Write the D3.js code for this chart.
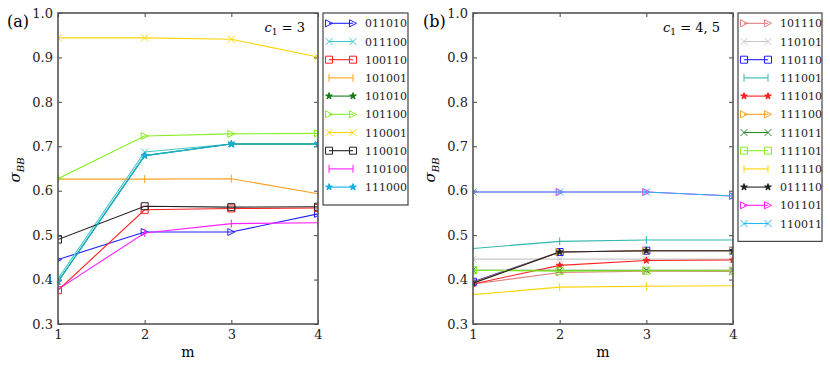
<!DOCTYPE html>
<meta charset="utf-8">
<style>
  body { margin: 0; background: white; }
  svg text { font-family: "DejaVu Serif", serif; }
  .tick text { font-size: 13px; fill: #222; }
  .tick line { stroke: #444; }
  .frame { fill: none; stroke: #555; stroke-width: 1.6; }
  .legend-box { fill: white; stroke: #444; stroke-width: 1.2; }
  .legend-text { font-size: 11px; fill: #222; }
</style>
<body></body>
<script src="https://d3js.org/d3.v7.min.js"></script>
<script>
// data
var mValues = [1, 2, 3, 4];
var yTicks = [0.3, 0.4, 0.5, 0.6, 0.7, 0.8, 0.9, 1.0];

var namesA = ["011010","011100","100110","101001","101010","101100","110001","110010","110100","111000"];
var valuesA = [
  [0.445, 0.507, 0.507, 0.548],
  [0.402, 0.687, 0.705, 0.705],
  [0.376, 0.557, 0.560, 0.561],
  [0.626, 0.626, 0.627, 0.593],
  [0.395, 0.679, 0.705, 0.705],
  [0.627, 0.723, 0.728, 0.729],
  [0.944, 0.944, 0.941, 0.901],
  [0.490, 0.565, 0.563, 0.564],
  [0.378, 0.505, 0.526, 0.528],
  [0.395, 0.679, 0.705, 0.705]
];

var namesB = ["101110","110101","110110","111001","111010","111100","111011","111101","111110","011110","101101","110011"];
var valuesB = [
  [0.390, 0.416, 0.419, 0.418],
  [0.446, 0.446, 0.446, 0.446],
  [0.395, 0.462, 0.465, 0.465],
  [0.470, 0.486, 0.489, 0.489],
  [0.390, 0.432, 0.443, 0.444],
  [0.393, 0.462, 0.465, 0.465],
  [0.421, 0.421, 0.421, 0.421],
  [0.421, 0.419, 0.420, 0.420],
  [0.366, 0.383, 0.385, 0.386],
  [0.392, 0.462, 0.465, 0.465],
  [0.597, 0.597, 0.597, 0.588],
  [0.597, 0.597, 0.597, 0.588]
];

// styles (colour, marker)
var styleA = [
  ["#2020ff", "tri"], ["#40c8c8", "x"], ["#ff2020", "sq"], ["#ffa020", "bar"], ["#1a7a1a", "star"],
  ["#88ee22", "tri"], ["#ffd500", "x"], ["#222222", "sq"], ["#ff20ff", "bar"], ["#10b0e0", "star"]
];
var styleB = [
  ["#e08080", "tri"], ["#c8c8c8", "x"], ["#2020ff", "sq"], ["#30b8b0", "bar"], ["#ff2020", "star"], ["#ffa020", "tri"],
  ["#2a8a2a", "x"], ["#88ee22", "sq"], ["#ffd500", "bar"], ["#222222", "star"], ["#ff20ff", "tri"], ["#20b8f0", "x"]
];

var svg = d3.select("body").append("svg")
  .attr("width", 830)
  .attr("height", 368);

function markerPath(kind) {
  var r = 3.5;
  if (kind == "tri") return "M" + r + ",0L" + (-r) + "," + (-r) + "L" + (-r) + "," + r + "Z";
  if (kind == "x") return "M-3.5,-3.5L3.5,3.5M-3.5,3.5L3.5,-3.5";
  if (kind == "sq") return "M-3.5,-3.5H3.5V3.5H-3.5Z";
  if (kind == "bar") return "M0,-4V4";
  return d3.symbol().type(d3.symbolStar).size(14)();
}

function drawMarker(g, kind, color, x, y) {
  g.append("path")
    .attr("d", markerPath(kind))
    .attr("transform", "translate(" + x + "," + y + ")")
    .attr("fill", kind == "star" ? color : "none")
    .attr("stroke", color)
    .attr("stroke-width", 1);
}

function drawPanel(p) {
  var x = d3.scaleLinear().domain([1, 4]).range([p.left, p.right]);
  var y = d3.scaleLinear().domain([0.3, 1.0]).range([324, 13]);
  var clipId = "clip" + p.tag.replace(/\W/g, "");

  svg.append("clipPath").attr("id", clipId)
    .append("rect")
    .attr("x", p.left).attr("y", 13)
    .attr("width", p.right - p.left).attr("height", 311);

  // axes, ticks inward on all four sides
  svg.append("g").attr("transform", "translate(0,324)")
    .call(d3.axisBottom(x).tickValues(mValues).tickFormat(d3.format("d")).tickSize(-4).tickPadding(6))
    .call(function(g) { g.select(".domain").remove(); });
  svg.append("g").attr("transform", "translate(0,13)")
    .call(d3.axisTop(x).tickValues(mValues).tickFormat("").tickSize(-4))
    .call(function(g) { g.select(".domain").remove(); });
  svg.append("g").attr("transform", "translate(" + p.left + ",0)")
    .call(d3.axisLeft(y).tickValues(yTicks).tickFormat(d3.format(".1f")).tickSize(-4).tickPadding(5))
    .call(function(g) { g.select(".domain").remove(); });
  svg.append("g").attr("transform", "translate(" + p.right + ",0)")
    .call(d3.axisRight(y).tickValues(yTicks).tickFormat("").tickSize(-4))
    .call(function(g) { g.select(".domain").remove(); });

  var plot = svg.append("g").attr("clip-path", "url(#" + clipId + ")");
  var line = d3.line()
    .x(function(d, i) { return x(mValues[i]); })
    .y(function(d) { return y(d); });

  p.values.forEach(function(vals, k) {
    var c = p.styles[k][0], mk = p.styles[k][1];
    plot.append("path")
      .attr("d", line(vals))
      .attr("fill", "none")
      .attr("stroke", c)
      .attr("stroke-width", 1.1);
    vals.forEach(function(v, i) {
      drawMarker(plot, mk, c, x(mValues[i]), y(v));
    });
  });

  svg.append("rect").attr("class", "frame")
    .attr("x", p.left).attr("y", 13)
    .attr("width", p.right - p.left).attr("height", 311);

  // labels
  svg.append("text").attr("x", p.labelX).attr("y", 27)
    .style("font-size", "16px").text(p.tag);
  var c1 = svg.append("text").attr("x", p.right - 13).attr("y", 32)
    .attr("text-anchor", "end").style("font-size", "13px");
  c1.append("tspan").style("font-style", "italic").text("c");
  c1.append("tspan").attr("dy", 3).style("font-size", "9px").text("1");
  c1.append("tspan").attr("dy", -3).text(" = " + p.c1);

  var yl = svg.append("text")
    .attr("transform", "translate(" + (p.left - 38) + ",170) rotate(-90)")
    .attr("text-anchor", "middle").style("font-size", "15px");
  yl.append("tspan").style("font-style", "italic").text("σ");
  yl.append("tspan").attr("dy", 4).style("font-style", "italic").style("font-size", "10px").text("BB");

  svg.append("text").attr("x", (p.left + p.right) / 2).attr("y", 357)
    .attr("text-anchor", "middle").style("font-size", "14px").text("m");

  // legend
  var lg = svg.append("g");
  lg.append("rect").attr("class", "legend-box")
    .attr("x", p.legX).attr("y", 13)
    .attr("width", p.legW).attr("height", 10 + p.names.length * 18.2);
  p.names.forEach(function(n, k) {
    var c = p.styles[k][0], mk = p.styles[k][1];
    var ly = 23.3 + k * 18.2;
    var x0 = p.legX + 6, x1 = p.legX + 30;
    lg.append("line").attr("x1", x0).attr("x2", x1).attr("y1", ly).attr("y2", ly)
      .attr("stroke", c).attr("stroke-width", 1.1);
    drawMarker(lg, mk, c, x0, ly);
    drawMarker(lg, mk, c, x1, ly);
    lg.append("text").attr("class", "legend-text")
      .attr("x", p.legX + 42).attr("y", ly + 4).text(n);
  });
}

drawPanel({ tag: "(a)", labelX: 7, left: 58, right: 318, c1: "3",
  names: namesA, values: valuesA, styles: styleA, legX: 323, legW: 85 });
drawPanel({ tag: "(b)", labelX: 423, left: 473, right: 733, c1: "4, 5",
  names: namesB, values: valuesB, styles: styleB, legX: 738, legW: 84 });
</script>
